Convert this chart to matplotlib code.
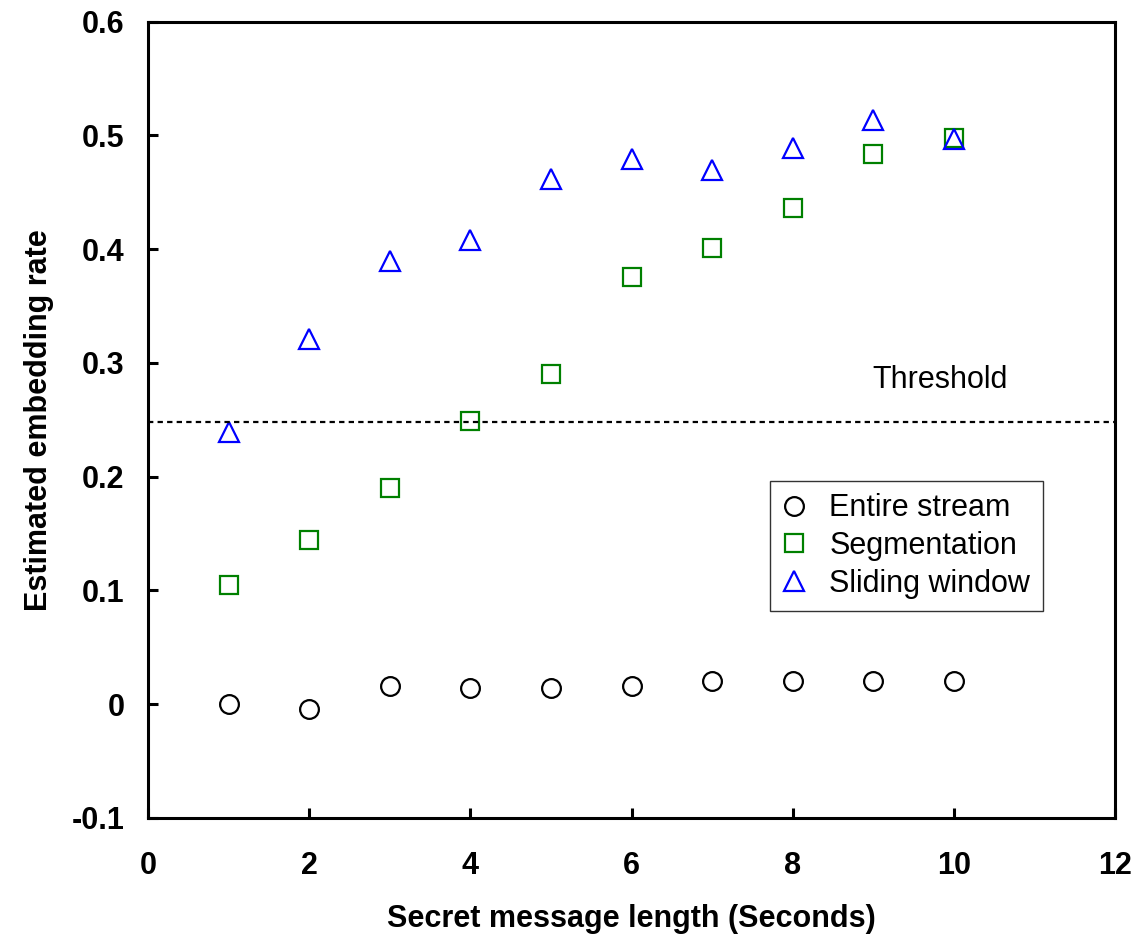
import matplotlib
matplotlib.use("Agg")
import matplotlib.pyplot as plt

x = [1, 2, 3, 4, 5, 6, 7, 8, 9, 10]
entire_stream = [0.0, -0.004, 0.016, 0.014, 0.014, 0.016, 0.02, 0.02, 0.02, 0.02]
segmentation = [0.105, 0.144, 0.190, 0.249, 0.290, 0.376, 0.401, 0.436, 0.484, 0.498]
sliding_window = [0.239, 0.321, 0.390, 0.408, 0.462, 0.479, 0.470, 0.489, 0.514, 0.497]
threshold = 0.248

plt.rcParams['font.family'] = ['Liberation Sans', 'DejaVu Sans']

fig = plt.figure(figsize=(11.39, 9.44), dpi=100)
ax = fig.add_axes([0.130, 0.1335, 0.849, 0.8435])

ms = 13.5
mew = 1.6
ax.plot(x, entire_stream, linestyle='none', marker='o', markersize=ms, markerfacecolor='none',
        markeredgecolor='black', markeredgewidth=mew, label='Entire stream')
ax.plot(x, segmentation, linestyle='none', marker='s', markersize=ms, markerfacecolor='none',
        markeredgecolor='#008000', markeredgewidth=mew, label='Segmentation')
ax.plot(x, sliding_window, linestyle='none', marker='^', markersize=ms + 1, markerfacecolor='none',
        markeredgecolor='#0000ff', markeredgewidth=mew, label='Sliding window')

ax.axhline(threshold, color='black', linestyle=(0, (2.4, 1.9)), linewidth=1.6)
ax.text(9.83, 0.285, 'Threshold', fontsize=22, ha='center', va='center')

ax.set_xlim(0, 12)
ax.set_ylim(-0.1, 0.6)
ax.set_xticks(range(0, 13, 2))
ax.set_yticks([-0.1, 0, 0.1, 0.2, 0.3, 0.4, 0.5, 0.6])
ax.set_yticklabels(['-0.1', '0', '0.1', '0.2', '0.3', '0.4', '0.5', '0.6'])

for lab in ax.get_xticklabels() + ax.get_yticklabels():
    lab.set_fontsize(22)
    lab.set_fontweight('bold')

ax.tick_params(direction='in', length=7, width=2.2)
ax.tick_params(axis='x', pad=24)
ax.tick_params(axis='y', pad=17)
for s in ax.spines.values():
    s.set_linewidth(2.2)

ax.set_xlabel('Secret message length (Seconds)', fontsize=22, fontweight='bold', labelpad=16)
ax.set_ylabel('Estimated embedding rate', fontsize=22, fontweight='bold', labelpad=13)

leg = ax.legend(loc='upper left', bbox_to_anchor=(0.643, 0.423), fontsize=22, frameon=True,
                fancybox=False, edgecolor='black', handletextpad=0.75, handlelength=0.8,
                borderpad=0.4, labelspacing=0.25, borderaxespad=0)
leg.get_frame().set_linewidth(1.0)

fig.savefig('out.png', dpi=100)
